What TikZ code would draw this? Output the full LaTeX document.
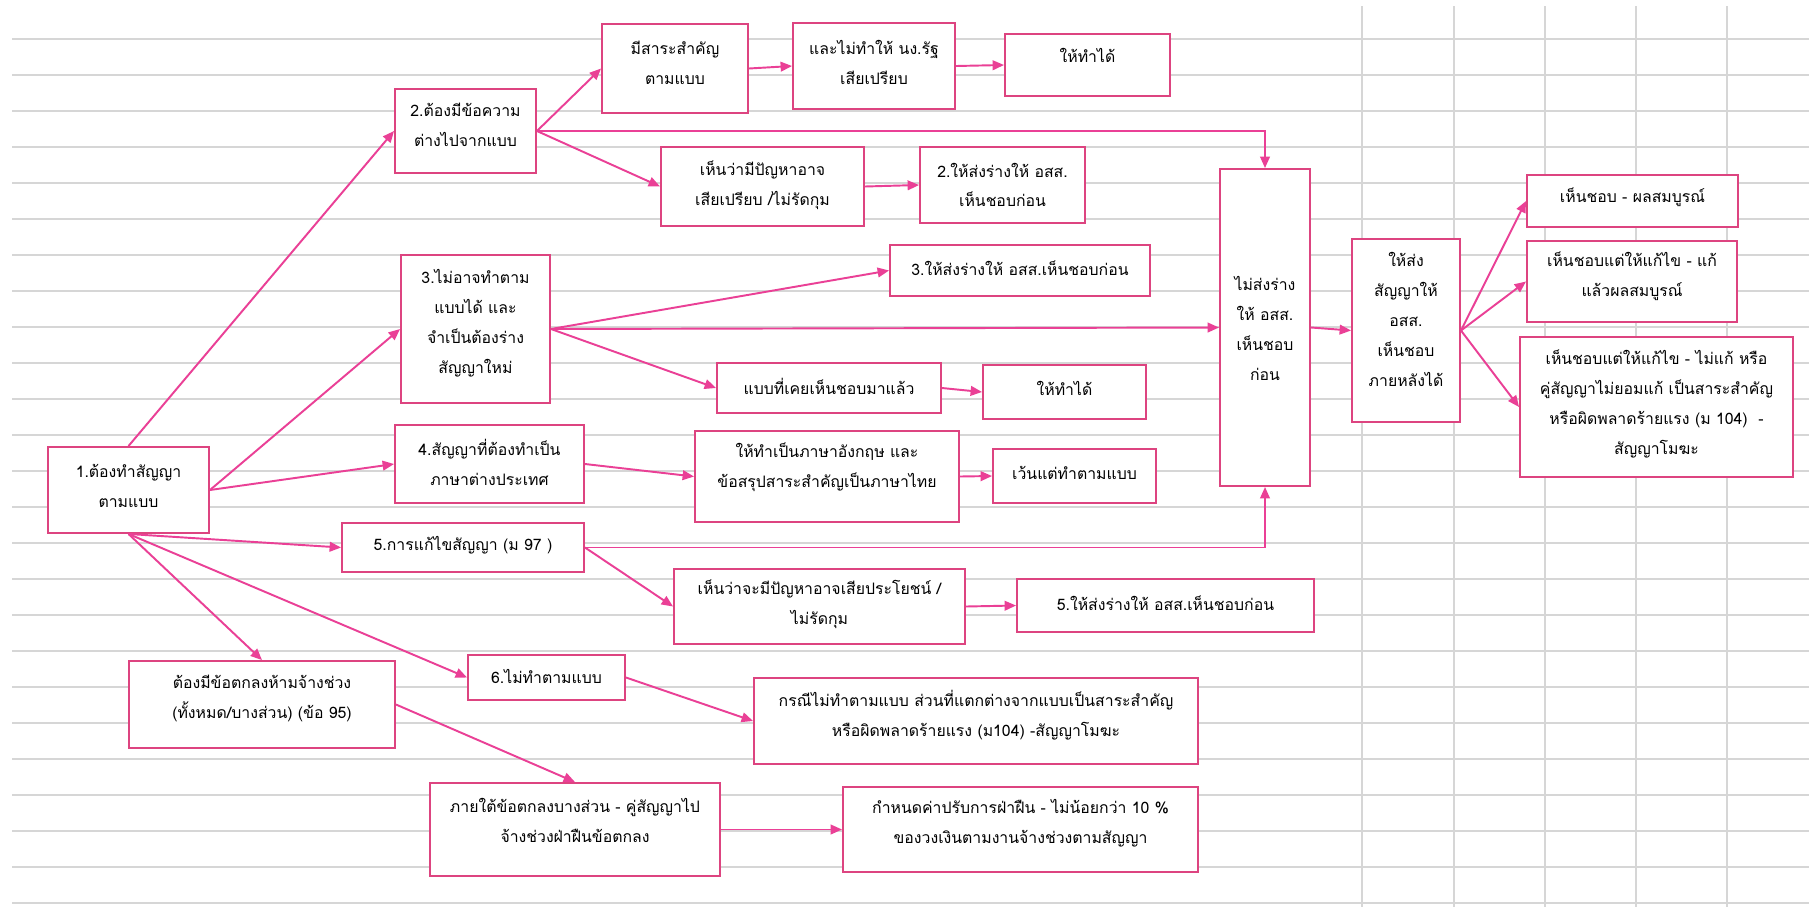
\documentclass[tikz,border=0pt]{standalone}
\usepackage{fontspec}
\newfontfamily\thaifont[Script=Thai]{Loma}
\usetikzlibrary{arrows.meta,fit}
\definecolor{boxpink}{RGB}{221,68,128}
\definecolor{arrowpink}{RGB}{234,64,150}
\definecolor{gridgray}{RGB}{214,214,214}
\newcommand*\tbox[5][4]{%
    % #1: text lift (px), #2: name
    % #3/#4: top left/bottom right corner
    \coordinate (#2-nw) at (#3);
    \coordinate (#2-se) at (#4);
    \node[box,fit=(#2-nw)(#2-se)] (#2) {};
    \node[txt,yshift=#1*0.567pt] (#2-txt) at (#2) {#5};
}

\begin{document}
\begin{tikzpicture}[x=0.02cm,y=-0.02cm,
    box/.style={draw=boxpink,line width=1.1pt,fill=white,inner sep=0pt},
    txt/.style={align=center,inner sep=0pt,font=\thaifont\fontsize{9}{17}\selectfont},
    arr/.style={draw=arrowpink,line width=1.1pt,-{Triangle[length=6.5pt,width=5.5pt]}}]
    \fill[white,use as bounding box] (0,0) rectangle (1809,907);
    \foreach \k in {0,...,24}
        \draw[gridgray,line width=.9pt] (12,{39+36*\k}) -- (1809,{39+36*\k});
    \foreach \gx in {1362,1454,1545,1636,1727}
        \draw[gridgray,line width=.9pt] (\gx,6) -- (\gx,907);
    % left column
    \tbox{b1}{48,447}{209,533}{1.ต้องทำสัญญา\\ตามแบบ}
    \tbox[6]{b2}{395,89}{536,173}{2.ต้องมีข้อความ\\ต่างไปจากแบบ}
    \tbox[6]{b3}{401,255}{550,403}{3.ไม่อาจทำตาม\\แบบได้ และ\\จำเป็นต้องร่าง\\สัญญาใหม่}
    \tbox[2]{b4}{395,425}{584,503}{4.สัญญาที่ต้องทำเป็น\\ภาษาต่างประเทศ}
    \tbox[2]{b5}{342,523}{584,572}{5.การแก้ไขสัญญา (ม 97 )}
    \tbox[1]{b6}{468,655}{625,700}{6.ไม่ทำตามแบบ}
    \tbox[6]{sub}{129,661}{395,748}{ต้องมีข้อตกลงห้ามจ้างช่วง\\(ทั้งหมด/บางส่วน) (ข้อ 95)}
    \tbox[9]{part}{430,783}{720,876}{ภายใต้ข้อตกลงบางส่วน - คู่สัญญาไป\\จ้างช่วงฝ่าฝืนข้อตกลง}
    % middle
    \tbox[6]{ess}{602,24}{748,113}{มีสาระสำคัญ\\ตามแบบ}
    \tbox[4]{nodis}{793,23}{955,109}{และไม่ทำให้ นง.รัฐ\\เสียเปรียบ}
    \tbox[10]{ok1}{1005,34}{1170,96}{ให้ทำได้}
    \tbox[1]{risk2}{661,147}{864,226}{เห็นว่ามีปัญหาอาจ\\เสียเปรียบ /ไม่รัดกุม}
    \tbox[0]{sub2}{920,147}{1085,223}{2.ให้ส่งร่างให้ อสส.\\เห็นชอบก่อน}
    \tbox[2]{sub3}{890,245}{1150,296}{3.ให้ส่งร่างให้ อสส.เห็นชอบก่อน}
    \tbox[2]{used}{717,363}{941,413}{แบบที่เคยเห็นชอบมาแล้ว}
    \tbox[4]{ok2}{983,365}{1146,419}{ให้ทำได้}
    \tbox[9]{eng}{695,431}{959,522}{ให้ทำเป็นภาษาอังกฤษ และ\\ข้อสรุปสาระสำคัญเป็นภาษาไทย}
    \tbox[3]{exc}{993,449}{1156,503}{เว้นแต่ทำตามแบบ}
    \tbox[2]{risk5}{674,569}{965,644}{เห็นว่าจะมีปัญหาอาจเสียประโยชน์ /\\ไม่รัดกุม}
    \tbox[2]{sub5}{1017,579}{1314,632}{5.ให้ส่งร่างให้ อสส.เห็นชอบก่อน}
    \tbox[6]{void}{754,678}{1198,764}{กรณีไม่ทำตามแบบ ส่วนที่แตกต่างจากแบบเป็นสาระสำคัญ\\หรือผิดพลาดร้ายแรง (ม104) -สัญญาโมฆะ}
    \tbox[6]{fine}{843,787}{1198,872}{กำหนดค่าปรับการฝ่าฝืน - ไม่น้อยกว่า 10 \%\\ของวงเงินตามงานจ้างช่วงตามสัญญา}
    % right column
    \tbox[-1]{pre}{1220,169}{1310,486}{ไม่ส่งร่าง\\ให้ อสส.\\เห็นชอบ\\ก่อน}
    \tbox[11]{post}{1352,239}{1460,422}{ให้ส่ง\\สัญญาให้\\อสส.\\เห็นชอบ\\ภายหลังได้}
    \tbox[4]{r1}{1527,175}{1738,227}{เห็นชอบ - ผลสมบูรณ์}
    \tbox[5]{r2}{1527,241}{1737,322}{เห็นชอบแต่ให้แก้ไข - แก้\\แล้วผลสมบูรณ์}
    \tbox[3]{r3}{1520,337}{1793,477}{เห็นชอบแต่ให้แก้ไข - ไม่แก้ หรือ\\คู่สัญญาไม่ยอมแก้ เป็นสาระสำคัญ\\หรือผิดพลาดร้ายแรง (ม 104)~~-\\สัญญาโมฆะ}
    % connectors
    \draw[arr] (b1.north) -- (b2.west);
    \draw[arr] (b1.east) -- (b3.west);
    \draw[arr] (b1.east) -- (b4.west);
    \draw[arr] (b1.south) -- (b5.west);
    \draw[arr] (b1.south) -- (sub.north);
    \draw[arr] (b1.south) -- (b6.west);
    \draw[arr] (b2.east) -- (ess.west);
    \draw[arr] (b2.east) -- (risk2.west);
    \draw[arr] (b2.east) -| (pre.north);
    \draw[arr] (ess.east) -- (nodis.west);
    \draw[arr] (nodis.east) -- (ok1.west);
    \draw[arr] (risk2.east) -- (sub2.west);
    \draw[arr] (b3.east) -- (sub3.west);
    \draw[arr] (b3.east) -- (pre.west);
    \draw[arr] (b3.east) -- (used.west);
    \draw[arr] (used.east) -- (ok2.west);
    \draw[arr] (b4.east) -- (eng.west);
    \draw[arr] (eng.east) -- (exc.west);
    \draw[arr] (b5.east) -| (pre.south);
    \draw[arr] (b5.east) -- (risk5.west);
    \draw[arr] (risk5.east) -- (sub5.west);
    \draw[arr] (b6.east) -- (void.west);
    \draw[arr] (sub.east) -- (part.north);
    \draw[arr] (part.east) -- (fine.west);
    \draw[arr] (pre.east) -- (post.west);
    \foreach \r in {r1,r2,r3}
        \draw[arr] (post.east) -- (\r.west);
\end{tikzpicture}
\end{document}
